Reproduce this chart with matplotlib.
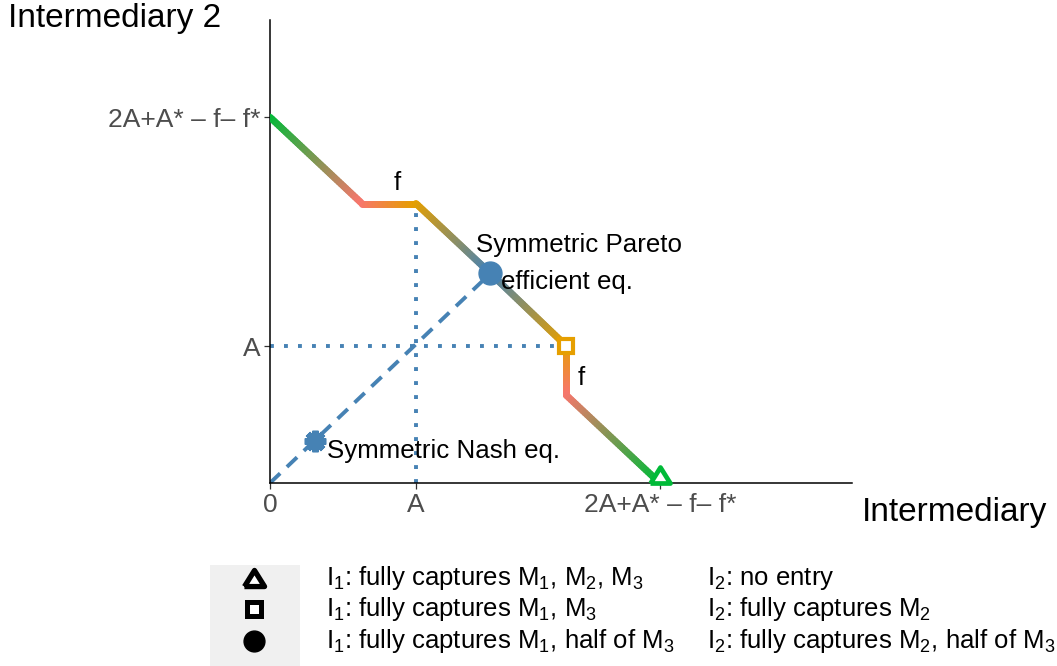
import numpy as np
import matplotlib
matplotlib.use("Agg")
import matplotlib.pyplot as plt
from matplotlib.collections import LineCollection
from matplotlib.colors import to_rgb

plt.rcParams['font.family'] = ['Liberation Sans', 'DejaVu Sans']
plt.rcParams['mathtext.fontset'] = 'custom'
plt.rcParams['mathtext.rm'] = 'Liberation Sans'
plt.rcParams['mathtext.it'] = 'Liberation Sans:italic'

# data (A = 1)
A = 1.0
T = 2.67  # 2A+A* - f - f*
frontier_x = [0, 0.63, 1.0, 1.51, 2.03, 2.03, 2.67]
frontier_y = [2.67, 2.04, 2.04, 1.53, 1.0, 0.64, 0]
frontier_colors = ['#00BA38', '#F8766D', '#E69F00', '#4682B4', '#E69F00', '#F8766D', '#00BA38']
pareto = (1.51, 1.53)
nash = (0.31, 0.31)
square_pt = (2.03, 1.0)
triangle_pt = (2.67, 0.0)

xtick_pos = [0, A, T]
xtick_labels = ['0', 'A', '2A+A* \u2013 f\u2013 f*']
ytick_pos = [A, T]
ytick_labels = ['A', '2A+A* \u2013 f\u2013 f*']

legend_col1 = [r'I$_1$: fully captures M$_1$, M$_2$, M$_3$',
               r'I$_1$: fully captures M$_1$, M$_3$',
               r'I$_1$: fully captures M$_1$, half of M$_3$']
legend_col2 = [r'I$_2$: no entry',
               r'I$_2$: fully captures M$_2$',
               r'I$_2$: fully captures M$_2$, half of M$_3$']
legend_markers = ['^', 's', 'o']

W, H = 1057, 666
fig = plt.figure(figsize=(W / 100, H / 100), dpi=100)
ax = fig.add_axes([270 / W, 1 - 483 / H, 582 / W, 463 / H])
ax.set_xlim(0, 582 / 146)
ax.set_ylim(0, 463 / 137)

# gradient frontier
segs, cols = [], []
n = 40
for i in range(len(frontier_x) - 1):
    c0 = np.array(to_rgb(frontier_colors[i]))
    c1 = np.array(to_rgb(frontier_colors[i + 1]))
    t = np.linspace(0, 1, n + 1)
    xs = frontier_x[i] + (frontier_x[i + 1] - frontier_x[i]) * t
    ys = frontier_y[i] + (frontier_y[i + 1] - frontier_y[i]) * t
    for k in range(n):
        segs.append([(xs[k], ys[k]), (xs[k + 1], ys[k + 1])])
        cols.append(c0 + (c1 - c0) * (k + 0.5) / n)
lc = LineCollection(segs, colors=cols, linewidths=5.0, capstyle='round', joinstyle='round', zorder=3)
ax.add_collection(lc)

# guide lines
ax.plot([A, A], [0, frontier_y[2]], ls=(0, (1, 2.6)), lw=2.8, color='#4682B4', zorder=2)
ax.plot([0, square_pt[0]], [A, A], ls=(0, (1, 2.6)), lw=2.8, color='#4682B4', zorder=2)
ax.plot([0, pareto[0]], [0, pareto[1]], ls=(0, (3.6, 2.4)), lw=2.8, color='#4682B4', zorder=2)

# points
tri_base = [(-1, 0), (1, 0), (0, 1.6), (-1, 0)]
tri_mid = [(-1, -0.8), (1, -0.8), (0, 0.8), (-1, -0.8)]
ax.plot(*pareto, 'o', ms=16.5, color='#4682B4', zorder=5)
ax.plot(*nash, marker=(8, 2, 0), ms=15.5, mew=4.4, color='#4682B4', zorder=5)
ax.plot(*square_pt, 's', ms=10, mfc='white', mec='#E69F00', mew=3.0, zorder=5)
ax.plot(*triangle_pt, marker=tri_base, ms=23, mfc='white', mec='#00BA38', mew=3.4, zorder=5,
        clip_on=False)

# annotations
ax.text(0.87, 2.19, 'f', fontsize=18.6, ha='center', va='center')
ax.text(2.13, 0.77, 'f', fontsize=18.6, ha='center', va='center')
ax.text(1.41, 1.74, 'Symmetric Pareto', fontsize=18.6, ha='left', va='center')
ax.text(1.58, 1.47, 'efficient eq.', fontsize=18.6, ha='left', va='center')
ax.text(0.39, 0.23, 'Symmetric Nash eq.', fontsize=18.6, ha='left', va='center')

# axes styling
for s in ['top', 'right']:
    ax.spines[s].set_visible(False)
for s in ['left', 'bottom']:
    ax.spines[s].set_linewidth(1.1)
    ax.spines[s].set_color('black')
ax.set_xticks(xtick_pos)
ax.set_xticklabels(xtick_labels)
ax.set_yticks(ytick_pos)
ax.set_yticklabels(ytick_labels)
ax.tick_params(length=4, width=0.9, color='#333333', labelcolor='#4D4D4D', labelsize=19, pad=3)

fig.text(862 / W, 1 - 512 / H, 'Intermediary', fontsize=24, ha='left', va='center')
fig.text(8 / W, 1 - 18 / H, 'Intermediary 2', fontsize=24, ha='left', va='center')

# legend
fig.patches.append(plt.Rectangle((210 / W, 0), 90 / W, 101 / H, transform=fig.transFigure,
                                 facecolor='#F0F0F0', edgecolor='none'))
row_y = [578, 609, 641]
for m, t1, t2, yy in zip(legend_markers, legend_col1, legend_col2, row_y):
    yf = 1 - yy / H
    if m == 'o':
        fig.add_artist(plt.Line2D([254 / W], [yf], marker=m, ms=15, color='black', ls='none'))
    elif m == 's':
        fig.add_artist(plt.Line2D([254 / W], [yf], marker=m, ms=9.4, mfc='white', mec='black',
                                  mew=3.6, ls='none'))
    else:
        fig.add_artist(plt.Line2D([254 / W], [yf], marker=tri_mid, ms=14.5, mfc='white', mec='black',
                                  mew=3.8, ls='none'))
    fig.text(326 / W, yf, t1, fontsize=18.5, ha='left', va='center')
    fig.text(707 / W, yf, t2, fontsize=18.5, ha='left', va='center')

fig.savefig('out.png', dpi=100)
